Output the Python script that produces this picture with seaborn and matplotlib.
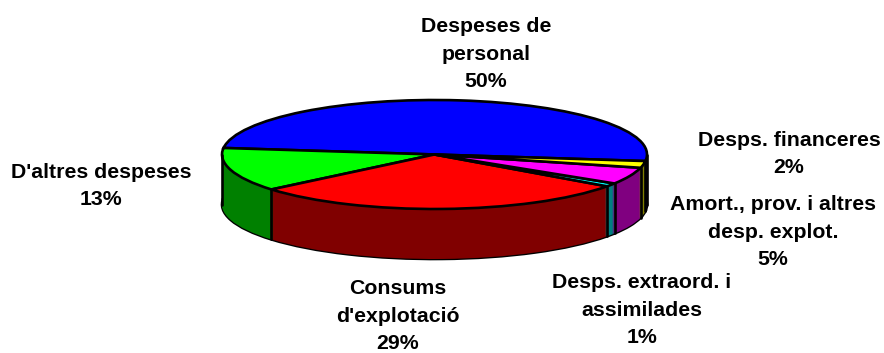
import numpy as np
import matplotlib
matplotlib.use("Agg")
import matplotlib.pyplot as plt
import seaborn as sns

labels = ["Despeses de\npersonal\n50%", "D'altres despeses\n13%", "Consums\nd'explotació\n29%",
          "Desps. extraord. i\nassimilades\n1%", "Amort., prov. i altres\ndesp. explot.\n5%",
          "Desps. financeres\n2%"]
values = [50, 13, 29, 1, 5, 2]
top_colors = ["#0000FF", "#00FF00", "#FF0000", "#00FFFF", "#FF00FF", "#FFFF00"]
side_colors = ["#000080", "#008000", "#800000", "#008080", "#800080", "#808000"]

sns.set_theme(style="white")
plt.rcParams["font.family"] = ["Liberation Sans", "DejaVu Sans"]

W, H = 884, 353
fig = plt.figure(figsize=(W / 100, H / 100), dpi=100)
ax = fig.add_axes([0, 0, 1, 1])

cx, cy, a, b, depth_px = 434.5, 154.5, 212.5, 54.5, 50
depth = depth_px / b
start = -6.9
lw = 1.9
edge = dict(edgecolor="black", linewidth=lw)

# bottom outline, then side layers, then the top face
ax.pie(values, colors=side_colors, startangle=start, center=(0, -depth), wedgeprops=edge)
for d in np.linspace(depth, 0, depth_px + 1):
    ax.pie(values, colors=side_colors, startangle=start, center=(0, -d),
           wedgeprops=dict(linewidth=0))

# vertical seams on the visible front wall
wedges_top, _ = ax.pie(values, colors=top_colors, startangle=start, center=(0, 0),
                       wedgeprops=edge)
for w in wedges_top:
    t = np.deg2rad(w.theta1)
    if np.sin(t) < 0:
        ax.plot([np.cos(t)] * 2, [np.sin(t), np.sin(t) - depth], color="black", lw=lw, zorder=5)
ax.plot([-1, -1], [0, -depth], color="black", lw=lw, zorder=5)
ax.plot([1, 1], [0, -depth], color="black", lw=lw, zorder=5)

ax.set_aspect("auto")
ax.set_xlim(-cx / a, (W - cx) / a)
ax.set_ylim(-(H - cy) / b, cy / b)
ax.axis("off")

label_pos = [(486, 54), (101, 186), (398, 316), (642, 310), (773, 232), (789, 154)]
for txt, (px, py) in zip(labels, label_pos):
    ax.text((px - cx) / a, (cy - py) / b, txt, ha="center", va="center", fontsize=15.3,
            fontweight="bold", color="black", linespacing=1.57, zorder=6)

fig.savefig("out.png", dpi=100, facecolor="white")
